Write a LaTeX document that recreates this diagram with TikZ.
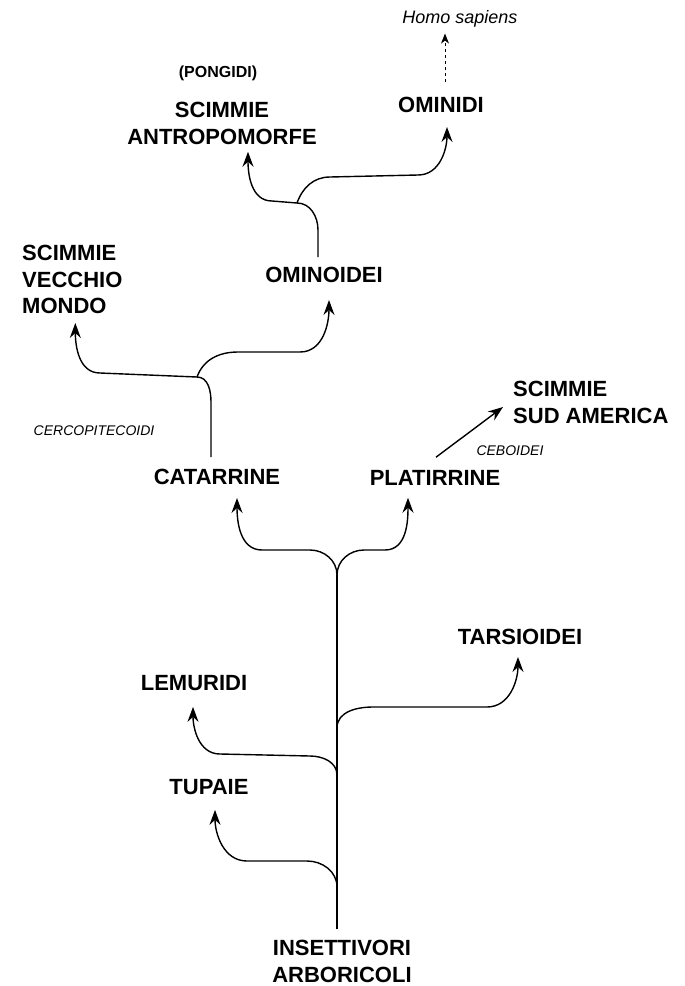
\documentclass[tikz,border=0pt]{standalone}
\usepackage{fontspec}
\setmainfont{Liberation Sans}
\usetikzlibrary{arrows.meta}

\begin{document}
\begin{tikzpicture}[
	x=1pt, y=-1pt,
	taxon/.style={
		font=\fontsize{22}{26.5}\selectfont\bfseries,
		inner sep=0pt,
		align=center
	},
	group/.style={
		font=\fontsize{16}{18}\selectfont\bfseries,
		inner sep=0pt
	},
	minor/.style={
		font=\fontsize{14}{16}\selectfont\itshape,
		inner sep=0pt
	},
	species/.style={
		font=\fontsize{18}{20}\selectfont\itshape,
		inner sep=0pt
	},
	stem/.style={
		line width=1.4pt
	},
	branch/.style={
		line width=1.4pt,
		-{Stealth[length=15pt,width=11pt,inset=5pt]}
	}
	]
	\useasboundingbox (0,0) rectangle (685,986);

	% labels
	\node[species] (homo) at (460,19) {Homo sapiens};
	\node[group] (pongidi) at (218,73) {(PONGIDI)};
	\node[taxon] (antropo) at (222,123.5) {SCIMMIE\\ANTROPOMORFE};
	\node[taxon] (ominidi) at (441,105) {OMINIDI};
	\node[taxon, anchor=west, align=left] (svm) at (22,279.5) {SCIMMIE\\VECCHIO\\MONDO};
	\node[taxon] (ominoidei) at (324,275) {OMINOIDEI};
	\node[minor] (cerco) at (94,431) {CERCOPITECOIDI};
	\node[taxon, anchor=west, align=left] (sudam) at (513,402.5) {SCIMMIE\\SUD AMERICA};
	\node[minor] (ceboidei) at (510,451) {CEBOIDEI};
	\node[taxon] (catarrine) at (217,477) {CATARRINE};
	\node[taxon] (platirrine) at (435,478) {PLATIRRINE};
	\node[taxon] (tarsioidei) at (520,637) {TARSIOIDEI};
	\node[taxon] (lemuridi) at (194,683) {LEMURIDI};
	\node[taxon] (tupaie) at (209,787) {TUPAIE};
	\node[taxon] (insettivori) at (342,961.5) {INSETTIVORI\\ARBORICOLI};

	% branching points
	\coordinate (jmain) at (337,575);
	\coordinate (jtars) at (337,728);
	\coordinate (jlemu) at (337,775);
	\coordinate (jtupa) at (337,887);
	\coordinate (jcata) at (197,377);
	\coordinate (jomin) at (297,203);

	% trunk
	\draw[stem] ([xshift=-5pt,yshift=11pt]insettivori.north) -- (jmain);

	\draw[branch] (jtupa) to[out=90,in=0] (307,861) -- (247,861)
		to[out=180,in=-90] ([xshift=6pt,yshift=-15pt]tupaie.south);
	\draw[branch] (jlemu) to[out=90,in=0] (310,756) -- (220,754)
		to[out=180,in=-90] ([xshift=-1pt,yshift=-16pt]lemuridi.south);
	\draw[branch] (jtars) to[out=90,in=180] (373,707) -- (487,707)
		to[out=0,in=-90] ([xshift=-2pt,yshift=-12pt]tarsioidei.south);

	\draw[branch] (jmain) to[out=90,in=0] (310,550) -- (262,550)
		to[out=180,in=-90] ([xshift=20pt,yshift=-13pt]catarrine.south);
	\draw[branch] (jmain) to[out=90,in=180] (364,550) -- (385,550)
		to[out=0,in=-90] ([xshift=-27pt,yshift=-12pt]platirrine.south);

	% catarrine
	\draw[branch] ([xshift=-6pt,yshift=12pt]catarrine.north) -- (211,402)
		to[out=90,in=0] (jcata) -- (100,373)
		to[out=180,in=-90] ([xshift=3pt,yshift=-9pt]svm.south);
	\draw[branch] (jcata) to[out=70,in=180] (238,352) -- (300,352)
		to[out=0,in=-90] ([xshift=5pt,yshift=-17pt]ominoidei.south);

	% platirrine
	\draw[branch] ([xshift=1pt,yshift=13pt]platirrine.north)
		-- ([xshift=-10pt,yshift=-4.5pt]sudam.west);

	% ominoidei
	\draw[branch] ([xshift=-6pt,yshift=10pt]ominoidei.north) -- (318,230)
		to[out=90,in=0] (jomin) -- (272,201)
		to[out=180,in=-90] ([xshift=26pt,yshift=-7pt]antropo.south);
	\draw[branch] (jomin) to[out=70,in=180] (330,177) -- (418,175)
		to[out=0,in=-90] ([xshift=6pt,yshift=-14pt]ominidi.south);

	\draw[dashed, line width=1pt, -{Stealth[length=10pt,width=8pt,inset=3pt]}]
		([xshift=4pt,yshift=15pt]ominidi.north) -- ([xshift=-15pt,yshift=-6pt]homo.south);

\end{tikzpicture}
\end{document}
